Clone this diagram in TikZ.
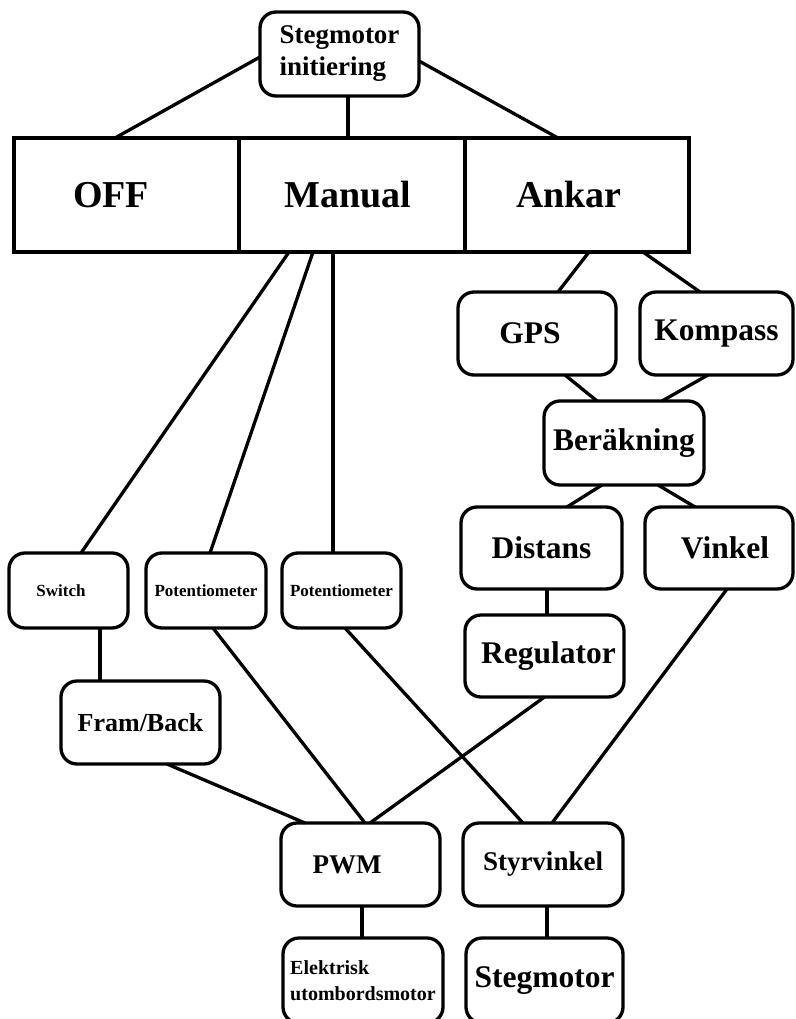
\documentclass[tikz,border=0pt]{standalone}
\usepackage{fontspec}
\setmainfont{Liberation Serif}
\begin{document}
\begin{tikzpicture}[x=1pt,y=-1pt]
\tikzset{
 rbox/.style={draw, line width=3.3pt, rounded corners=16pt, inner sep=0pt, outer sep=0pt, align=center, font=\bfseries\fontsize{31.5}{34}\selectfont},
 cell/.style={draw, line width=3.3pt, inner sep=0pt, outer sep=0pt, font=\bfseries\fontsize{38}{40}\selectfont},
 conn/.style={line width=3.3pt},
 sz/.style 2 args={minimum width=#1pt, minimum height=#2pt},
 smalltext/.style={font=\bfseries\fontsize{17}{19}\selectfont},
 midtext/.style={font=\bfseries\fontsize{27}{30}\selectfont},
}
\useasboundingbox (0,0) rectangle (795,1019);
\clip (0,0) rectangle (795,1019);

% nodes
\node[rbox, sz={159}{84}, align=left, font=\bfseries\fontsize{27}{32}\selectfont] (init) at (339.5,54) {Stegmotor\\initiering};
\node[cell, sz={225}{114}] (off) at (126.5,195) {OFF\hspace*{31pt}};
\node[cell, sz={226}{114}] (manual) at (352,195) {Manual\hspace*{8pt}};
\node[cell, sz={224}{114}] (ankar) at (577,195) {Ankar\hspace*{16pt}};

\node[rbox, sz={158}{83}] (gps) at (537,333.5) {GPS\hspace*{14pt}};
\node[rbox, sz={153}{83}] (kompass) at (716.5,333.5) {Kompass};
\node[rbox, sz={160}{84}] (ber) at (624,443) {Beräkning};
\node[rbox, sz={161}{82}] (distans) at (541.5,548) {Distans};
\node[rbox, sz={148}{82}] (vinkel) at (719,548) {\hspace*{12pt}Vinkel};
\node[rbox, sz={159}{82}] (regulator) at (544.5,656) {\hspace*{8pt}Regulator};

\node[rbox, sz={119}{75}, smalltext] (switch) at (68.5,590.5) {Switch\hspace*{15pt}};
\node[rbox, sz={120}{75}, smalltext] (pot1) at (206,590.5) {Potentiometer};
\node[rbox, sz={119}{75}, smalltext] (pot2) at (341.5,590.5) {Potentiometer};
\node[rbox, sz={159}{83}, font=\bfseries\fontsize{26}{29}\selectfont] (fb) at (140.5,722.5) {Fram/Back};

\node[rbox, sz={159}{83}, midtext] (pwm) at (360.5,864.5) {PWM\hspace*{27pt}};
\node[rbox, sz={160}{83}, midtext] (styr) at (543,864.5) {Styrvinkel};
\node[rbox, sz={160}{85}, align=left, font=\bfseries\fontsize{20}{26}\selectfont] (elek) at (363,980.5) {Elektrisk\\utombordsmotor};
\node[rbox, sz={157}{85}] (steg) at (544.5,980.5) {Stegmotor};

% connectors
\draw[conn] ([yshift=-3pt]init.west) -- ([xshift=-11.5pt]off.north);
\draw[conn] ([xshift=8.5pt]init.south) -- ([xshift=-4pt]manual.north);
\draw[conn] ([yshift=-7pt]init.east) -- ([xshift=-19pt]ankar.north);

\draw[conn] ([xshift=-63pt]manual.south) -- ([xshift=12.5pt]switch.north);
\draw[conn] ([xshift=-39pt]manual.south) -- ([xshift=4pt]pot1.north);
\draw[conn] ([xshift=-19pt]manual.south) -- ([xshift=-8.5pt]pot2.north);

\draw[conn] ([xshift=12pt]ankar.south) -- ([xshift=21pt]gps.north);
\draw[conn] ([xshift=66pt]ankar.south) -- ([xshift=-16.5pt]kompass.north);
\draw[conn] ([xshift=28pt]gps.south) -- ([xshift=-27pt]ber.north);
\draw[conn] ([xshift=-8.5pt]kompass.south) -- ([xshift=38pt]ber.north);
\draw[conn] ([xshift=-22pt]ber.south) -- ([xshift=25.5pt]distans.north);
\draw[conn] ([xshift=34pt]ber.south) -- ([xshift=-24pt]vinkel.north);
\draw[conn] ([xshift=5.5pt]distans.south) -- ([xshift=2.5pt]regulator.north);
\draw[conn] ([xshift=8pt]vinkel.south) -- ([xshift=9pt]styr.north);

\draw[conn] ([xshift=31.5pt]switch.south) -- ([xshift=-40.5pt]fb.north);
\draw[conn] ([xshift=7pt]pot1.south) -- ([xshift=4.5pt]pwm.north);
\draw[conn] ([xshift=3.5pt]pot2.south) -- ([xshift=-20pt]styr.north);
\draw[conn] (regulator.south) -- ([xshift=9.5pt]pwm.north);
\draw[conn] ([xshift=26.5pt]fb.south) -- ([xshift=-55.5pt]pwm.north);
\draw[conn] ([xshift=1.5pt]pwm.south) -- ([xshift=-1pt]elek.north);
\draw[conn] ([xshift=4pt]styr.south) -- ([xshift=2.5pt]steg.north);
\end{tikzpicture}
\end{document}
